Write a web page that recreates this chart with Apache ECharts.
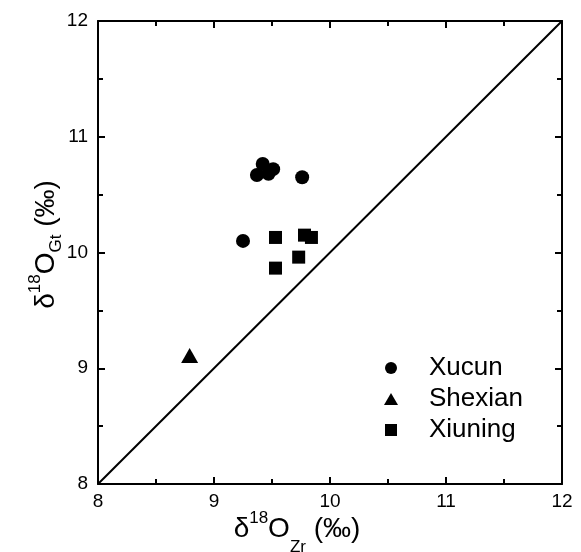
<!DOCTYPE html>
<html><head><meta charset="utf-8">
<script src="https://cdn.jsdelivr.net/npm/echarts@6/dist/echarts.min.js"></script>
<style>html,body{margin:0;padding:0;background:#fff}#c{width:581px;height:552px}</style>
</head><body><div id="c"></div>
<script>
const xucunX = [9.25, 9.37, 9.42, 9.47, 9.51, 9.76];
const xucunY = [10.10, 10.67, 10.765, 10.68, 10.72, 10.65];
const shexianX = [8.79];
const shexianY = [9.11];
const xiuningX = [9.53, 9.78, 9.84, 9.73, 9.53];
const xiuningY = [10.13, 10.15, 10.13, 9.96, 9.865];
const lineX = [8, 12];
const lineY = [8, 12];
const axisMin = 8, axisMax = 12, axisStep = 1;

const zip = (a, b) => a.map((v, i) => [v, b[i]]);
const FONT = 'Liberation Sans';
const chart = echarts.init(document.getElementById('c'), null, {renderer: 'canvas'});
function richFor(subPad) {
  return {
    a: {fontSize: 28, fontFamily: FONT, color: '#000', lineHeight: 60, verticalAlign: 'middle'},
    sup: {fontSize: 17, fontFamily: FONT, color: '#000', lineHeight: 17, verticalAlign: 'middle', padding: [0, 0, 22, 0]},
    sub: {fontSize: 17, fontFamily: FONT, color: '#000', lineHeight: 17, verticalAlign: 'middle', padding: [subPad, 0, 0, 0]}
  };
}
const baseAxis = {
  type: 'value', min: axisMin, max: axisMax, interval: axisStep,
  nameMoveOverlap: false,
  axisLine: {show: true, onZero: false, lineStyle: {color: '#000', width: 2}},
  axisTick: {show: true, inside: true, length: 7, lineStyle: {color: '#000', width: 2}},
  minorTick: {show: true, splitNumber: 2, length: 5, lineStyle: {color: '#000', width: 2}},
  splitLine: {show: false},
  axisLabel: {show: true, fontSize: 19, fontFamily: FONT, color: '#000', margin: 8}
};
function ax(extra) { return Object.assign({}, JSON.parse(JSON.stringify(baseAxis)), extra); }
const yAx = ax({position: 'left', name: '{a|δ}{sup|18}{a|O}{sub|Gt}{a| (‰)}', nameLocation: 'middle', nameGap: 22, nameRotate: 90,
        nameTextStyle: {rich: richFor(20), padding: [0, 0, 0, 16]}});
yAx.axisLabel.margin = 10;
chart.setOption({
  animation: false,
  backgroundColor: '#fff',
  grid: {left: 98, top: 21, width: 464, height: 463, show: false, containLabel: false, outerBoundsMode: 'none'},
  xAxis: [
    ax({position: 'bottom', name: '{a|δ}{sup|18}{a|O}{sub|Zr}{a| (‰)}', nameLocation: 'middle', nameGap: 15,
        nameTextStyle: {rich: richFor(36), padding: [0, 66, 0, 0]}}),
    ax({position: 'top', axisLabel: {show: false}})
  ],
  yAxis: [
    yAx,
    ax({position: 'right', axisLabel: {show: false}})
  ],
  legend: {
    orient: 'vertical', left: 379, top: 350, itemGap: 5, itemWidth: 14, itemHeight: 12,
    textStyle: {fontSize: 26, lineHeight: 26, fontFamily: FONT, color: '#000', padding: [0, 0, 0, 26]},
    data: [{name: 'Xucun', icon: 'circle'}, {name: 'Shexian', icon: 'triangle'}, {name: 'Xiuning', icon: 'path://M0,0H10V10H0Z'}]
  },
  series: [
    {type: 'line', data: zip(lineX, lineY), symbol: 'none', silent: true,
     lineStyle: {color: '#000', width: 2}, z: 1},
    {name: 'Xucun', type: 'scatter', data: zip(xucunX, xucunY), symbol: 'circle', symbolSize: 14,
     itemStyle: {color: '#000', opacity: 1}},
    {name: 'Shexian', type: 'scatter', data: zip(shexianX, shexianY), symbol: 'triangle', symbolSize: [17, 15],
     itemStyle: {color: '#000', opacity: 1}},
    {name: 'Xiuning', type: 'scatter', data: zip(xiuningX, xiuningY), symbol: 'rect', symbolSize: 13,
     itemStyle: {color: '#000', opacity: 1}}
  ]
});
</script></body></html>
